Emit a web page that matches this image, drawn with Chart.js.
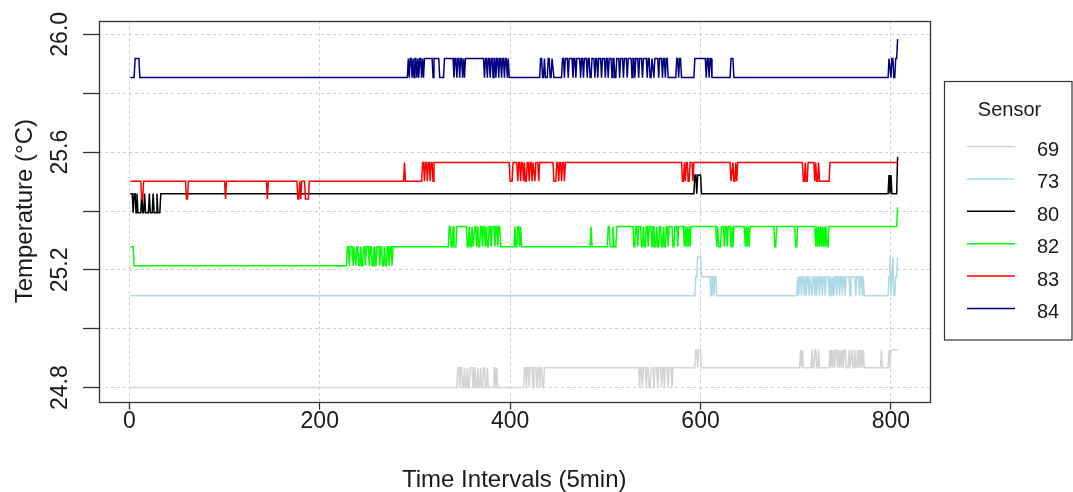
<!DOCTYPE html>
<html><head><meta charset="utf-8">
<script src="https://cdn.jsdelivr.net/npm/chart.js@4/dist/chart.umd.min.js"></script>
<style>html,body{margin:0;padding:0;background:#fff;}#wrap{width:1073px;height:492px;}</style>
</head><body><div id="wrap"><canvas id="c" width="1073" height="492"></canvas></div>
<script>
// ---- data ----
const N_POINTS = 807;
const sensors = ['69', '73', '80', '82', '83', '84'];
const xTicks = [0, 200, 400, 600, 800];
const yTicks = [24.8, 25.0, 25.2, 25.4, 25.6, 25.8, 26.0];
const yTickLabels = ['24.8', '', '25.2', '', '25.6', '', '26.0'];
const xTitle = 'Time Intervals (5min)';
const yTitle = 'Temperature (°C)';
const legendTitle = 'Sensor';

// runs: [first interval index, temperature] — value holds until the next run starts
const s69 = [[1,24.801],[345,24.868],[347,24.801],[348,24.868],[350,24.801],[352,24.868],[353,24.801],[355,24.868],[356,24.801],[358,24.868],[361,24.801],[362,24.868],[364,24.801],[366,24.868],[367,24.801],[369,24.868],[370,24.801],[372,24.868],[374,24.801],[376,24.868],[377,24.801],[383,24.868],[385,24.801],[386,24.868],[387,24.801],
[415,24.868],[417,24.801],[418,24.868],[420,24.801],[421,24.868],[424,24.801],[425,24.868],[428,24.801],[429,24.868],[431,24.801],[432,24.868],[434,24.801],[436,24.868],
[536,24.801],[537,24.868],[539,24.801],[540,24.868],[543,24.801],[544,24.868],[546,24.801],[548,24.868],[551,24.801],[552,24.868],[555,24.801],[556,24.868],[559,24.801],[560,24.868],[562,24.801],[563,24.868],[566,24.801],[567,24.868],[570,24.801],[571,24.868],
[595,24.928],[597,24.868],[598,24.928],[601,24.868],
[705,24.928],[706,24.868],[707,24.928],[708,24.868],[717,24.928],[718,24.868],[720,24.928],[722,24.868],[724,24.928],[725,24.868],
[736,24.928],[737,24.868],[738,24.928],[739,24.868],[740,24.928],[741,24.868],[742,24.928],[744,24.868],[745,24.928],[746,24.868],[747,24.928],[748,24.868],[749,24.928],[750,24.868],[751,24.928],[753,24.868],
[756,24.928],[757,24.868],[759,24.928],[760,24.868],[762,24.928],[763,24.868],[765,24.928],[766,24.868],[767,24.928],[768,24.868],[769,24.928],[770,24.868],[771,24.928],[772,24.868],
[790,24.928],[791,24.868],[798,24.928],[799,24.868],[800,24.928]];

const s73 = [[1,25.112],[595,25.177],[597,25.243],[601,25.177],[611,25.112],[612,25.177],[614,25.112],[615,25.177],[617,25.112],
[702,25.177],[703,25.112],[704,25.177],[706,25.112],[707,25.177],[709,25.112],[710,25.177],[711,25.112],[712,25.177],[714,25.112],[715,25.177],[717,25.112],[718,25.177],[720,25.112],[721,25.177],[722,25.112],[723,25.177],[725,25.112],[726,25.177],[728,25.112],[729,25.177],[731,25.112],[732,25.177],[735,25.112],[736,25.177],[737,25.112],[739,25.177],[740,25.112],[741,25.177],[743,25.112],[744,25.177],[746,25.112],[747,25.177],[749,25.112],[750,25.177],[752,25.112],[753,25.177],[757,25.112],[758,25.177],[763,25.112],[764,25.177],[767,25.112],[768,25.177],[770,25.112],[771,25.177],[772,25.112],
[798,25.177],[799,25.243],[800,25.112],[801,25.177],[802,25.243],[803,25.112],[805,25.177],[807,25.243]];

const s80 = [[1,25.459],[4,25.394],[5,25.459],[7,25.394],[8,25.459],[9,25.394],[13,25.459],[14,25.394],[16,25.459],[17,25.394],[21,25.459],[22,25.394],[25,25.459],[26,25.394],[29,25.459],[30,25.394],[33,25.459],
[594,25.522],[596,25.459],[597,25.522],[601,25.459],
[798,25.522],[799,25.459],[800,25.522],[801,25.459],[807,25.584]];

const s82 = [[1,25.279],[5,25.214],
[229,25.279],[231,25.214],[232,25.279],[235,25.214],[236,25.279],[238,25.214],[239,25.279],[241,25.214],[243,25.279],[244,25.214],[246,25.279],[248,25.214],[249,25.279],[252,25.214],[253,25.279],[255,25.214],[257,25.279],[258,25.214],[260,25.279],[263,25.214],[264,25.279],[266,25.214],[268,25.279],[269,25.214],[271,25.279],[273,25.214],[274,25.279],[276,25.214],[277,25.279],
[336,25.347],[338,25.279],[340,25.347],[341,25.279],[344,25.347],[355,25.279],[357,25.347],[358,25.279],[360,25.347],[361,25.279],[363,25.347],[365,25.279],[366,25.347],[367,25.279],[369,25.347],[371,25.279],[372,25.347],[374,25.279],[375,25.347],[376,25.279],[378,25.347],[380,25.279],[381,25.347],[384,25.279],[385,25.347],[387,25.279],[388,25.347],[390,25.279],
[405,25.347],[406,25.279],[408,25.347],[410,25.279],[411,25.347],[412,25.279],
[485,25.347],[486,25.279],
[503,25.347],[505,25.279],[508,25.347],[509,25.279],[512,25.347],[530,25.279],[532,25.347],[534,25.279],[535,25.347],[538,25.279],[540,25.347],[541,25.279],[543,25.347],[545,25.279],[546,25.347],[549,25.279],[550,25.347],[552,25.279],[554,25.347],[555,25.279],[557,25.347],[559,25.279],[561,25.347],[562,25.279],[564,25.347],[566,25.279],[567,25.347],[571,25.279],[573,25.347],[576,25.279],[577,25.347],[583,25.279],[584,25.347],[585,25.279],[586,25.347],[587,25.279],[588,25.347],[589,25.279],[590,25.347],
[617,25.279],[618,25.347],[619,25.279],[622,25.347],[625,25.279],[626,25.347],[628,25.279],[629,25.347],[632,25.279],[633,25.347],[634,25.279],[635,25.347],
[647,25.279],[648,25.347],[649,25.279],[650,25.347],[651,25.279],[652,25.347],
[678,25.279],[680,25.347],[700,25.279],[702,25.347],
[721,25.279],[722,25.347],[723,25.279],[724,25.347],[725,25.279],[726,25.347],[727,25.279],[728,25.347],[729,25.279],[730,25.347],[731,25.279],[732,25.347],[733,25.279],[735,25.347],
[807,25.413]];

const s83 = [[1,25.501],[13,25.441],[15,25.501],[60,25.441],[62,25.501],[101,25.441],[102,25.501],[145,25.441],[146,25.501],[177,25.441],[179,25.501],[180,25.441],[181,25.501],[185,25.441],[189,25.501],
[289,25.565],[290,25.501],[308,25.565],[310,25.501],[311,25.565],[313,25.501],[314,25.565],[316,25.501],[317,25.565],[319,25.501],[320,25.565],
[400,25.501],[403,25.565],[408,25.501],[409,25.565],[411,25.501],[412,25.565],[414,25.501],[415,25.565],[416,25.501],[418,25.565],[420,25.501],[421,25.565],[423,25.501],[424,25.565],[426,25.501],[427,25.565],[430,25.501],[431,25.565],
[446,25.501],[449,25.565],[451,25.501],[452,25.565],[454,25.501],[455,25.565],[457,25.501],[458,25.565],
[581,25.501],[583,25.565],[584,25.501],[585,25.565],[587,25.501],[589,25.565],[592,25.501],[593,25.565],
[632,25.501],[634,25.565],[635,25.501],[637,25.565],[638,25.501],[639,25.565],
[708,25.501],[710,25.565],[711,25.501],[713,25.565],
[720,25.501],[721,25.565],[722,25.501],[724,25.565],[725,25.501],[736,25.565]];

const s84 = [[1,25.853],[6,25.918],[11,25.853],
[293,25.918],[294,25.853],[295,25.918],[297,25.853],[298,25.918],[299,25.853],[300,25.918],[302,25.853],[303,25.918],[304,25.853],[305,25.918],[307,25.853],[308,25.918],[309,25.853],[310,25.918],
[319,25.853],[320,25.918],[326,25.853],[331,25.918],
[341,25.853],[342,25.918],[344,25.853],[345,25.918],[347,25.853],[348,25.918],[350,25.853],[351,25.918],[352,25.853],[353,25.918],
[373,25.853],[374,25.918],[376,25.853],[377,25.918],[379,25.853],[380,25.918],[382,25.853],[383,25.918],[385,25.853],[386,25.918],[388,25.853],[389,25.918],[391,25.853],[392,25.918],[394,25.853],[395,25.918],[397,25.853],[398,25.918],[399,25.853],
[432,25.918],[434,25.853],[436,25.918],[437,25.853],[440,25.918],[442,25.853],[444,25.918],[446,25.853],
[455,25.918],[457,25.853],[458,25.918],[461,25.853],[462,25.918],[466,25.853],[467,25.918],[469,25.853],[470,25.918],[474,25.853],[475,25.918],[477,25.853],[478,25.918],[481,25.853],[482,25.918],[484,25.853],[486,25.918],[489,25.853],[490,25.918],[492,25.853],[493,25.918],[496,25.853],[497,25.918],[500,25.853],[501,25.918],[503,25.853],[504,25.918],[507,25.853],[508,25.918],[510,25.853],[512,25.918],[515,25.853],[516,25.918],[519,25.853],[520,25.918],[523,25.853],[524,25.918],[528,25.853],[529,25.918],[531,25.853],[532,25.918],[535,25.853],[536,25.918],[539,25.853],[540,25.918],[544,25.853],[545,25.918],[547,25.853],[549,25.918],[551,25.853],[552,25.918],[556,25.853],[557,25.918],[560,25.853],[561,25.918],[563,25.853],[564,25.918],[566,25.853],
[575,25.918],[577,25.853],[578,25.918],[580,25.853],
[594,25.918],[606,25.853],[607,25.918],[609,25.853],[610,25.918],[612,25.853],
[632,25.918],[635,25.853],
[798,25.918],[800,25.853],[801,25.918],[803,25.853],[805,25.918],[807,25.984]];

const seriesRuns = [s69, s73, s80, s82, s83, s84];
const seriesColors = ['#d3d3d3', '#add8e6', '#000000', '#00ff00', '#ff0000', '#000080'];

// ---- build points from the runs ----
function expandRuns(runs) {
  const pts = [];
  for (let k = 0; k < runs.length; k++) {
    const s = runs[k][0], v = runs[k][1];
    const e = k + 1 < runs.length ? runs[k + 1][0] - 1 : N_POINTS;
    pts.push({x: s, y: v});
    if (e > s) pts.push({x: e, y: v});
  }
  return pts;
}

const FONT = '"Liberation Sans", Arial, sans-serif';
const TEXT = '#1a1a1a';

const boxPlugin = {
  id: 'rbox',
  afterDraw(chart) {
    const {ctx, chartArea: a} = chart;
    ctx.save();
    ctx.strokeStyle = '#333';
    ctx.lineWidth = 1.3;
    ctx.strokeRect(Math.round(a.left) + 0.5, Math.round(a.top) + 0.5, Math.round(a.right - a.left), Math.round(a.bottom - a.top));
    ctx.restore();
  }
};

const legendPlugin = {
  id: 'rlegend',
  afterDraw(chart) {
    const ctx = chart.ctx;
    ctx.save();
    ctx.strokeStyle = '#333';
    ctx.lineWidth = 1.2;
    ctx.strokeRect(944.5, 81.5, 127.5, 258.5);
    ctx.fillStyle = TEXT;
    ctx.font = '20px ' + FONT;
    ctx.textAlign = 'center';
    ctx.textBaseline = 'alphabetic';
    ctx.fillText(legendTitle, 1009.5, 116);
    chart.data.datasets.forEach((ds, i) => {
      const y = 146 + i * 32.4;
      ctx.strokeStyle = ds.borderColor;
      ctx.lineWidth = 1.5;
      ctx.beginPath();
      ctx.moveTo(967, y + 0.5);
      ctx.lineTo(1015, y + 0.5);
      ctx.stroke();
      ctx.textAlign = 'left';
      ctx.fillStyle = TEXT;
      ctx.fillText(ds.label, 1037, y + 10);
    });
    ctx.restore();
  }
};

new Chart(document.getElementById('c'), {
  type: 'line',
  data: {
    datasets: seriesRuns.map((runs, i) => ({
      label: sensors[i],
      data: expandRuns(runs),
      borderColor: seriesColors[i],
      backgroundColor: seriesColors[i],
      borderWidth: 1.5,
      pointRadius: 0,
      tension: 0,
      fill: false,
      order: seriesRuns.length - i
    }))
  },
  options: {
    responsive: false,
    animation: false,
    events: [],
    layout: {padding: {left: 0, right: 143.5, top: 20.7, bottom: 0}},
    plugins: {legend: {display: false}, tooltip: {enabled: false}},
    scales: {
      x: {
        type: 'linear',
        min: -31.9,
        max: 840.5,
        afterBuildTicks: s => { s.ticks = xTicks.map(v => ({value: v})); },
        afterFit: s => { s.height = 90.3; },
        grid: {color: '#cccccc', lineWidth: 1, tickColor: '#333', tickWidth: 1.3, tickLength: 8},
        border: {display: false, dash: [3, 3]},
        ticks: {font: {family: FONT, size: 23}, color: TEXT, padding: -2, maxRotation: 0, minRotation: 0,
                callback: v => String(v)},
        title: {display: true, text: xTitle, color: TEXT, font: {family: FONT, size: 24, lineHeight: 1}, padding: {top: 0, bottom: 0}}
      },
      y: {
        type: 'linear',
        min: 24.7525,
        max: 26.0462,
        afterBuildTicks: s => { s.ticks = yTicks.map(v => ({value: v})); },
        afterFit: s => { s.width = 99; },
        grid: {color: '#cccccc', lineWidth: 1, tickColor: '#333', tickWidth: 1.3, tickLength: 16},
        border: {display: false, dash: [3, 3]},
        ticks: {font: {family: FONT, size: 23}, color: TEXT, padding: 0, minRotation: 90, maxRotation: 90,
                crossAlign: 'center', callback: (v, i) => yTickLabels[i]},
        title: {display: true, text: yTitle, color: TEXT, font: {family: FONT, size: 24}, padding: {top: 10.6, bottom: 0}}
      }
    }
  },
  plugins: [boxPlugin, legendPlugin]
});
</script>
</body></html>
